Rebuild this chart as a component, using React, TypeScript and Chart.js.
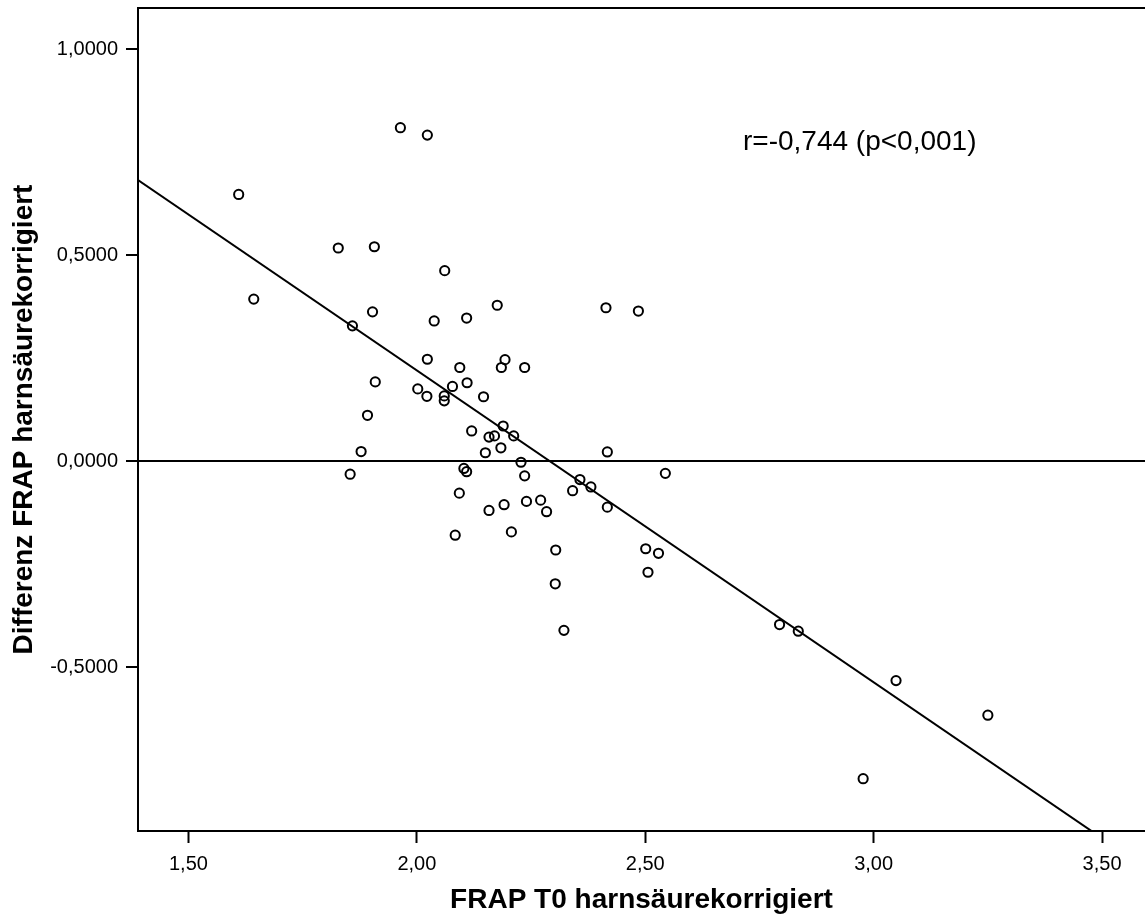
import { useEffect, useRef } from "react";
import { Chart, registerables } from "chart.js";

Chart.register(...registerables);

// FRAP at T0 (uric-acid corrected) per subject
const frapT0 = [
  1.610, 1.643, 1.964, 2.023, 1.828, 1.907, 2.061, 2.176, 1.903, 1.859,
  2.038, 2.109, 2.023, 2.094, 2.193, 2.185, 2.236, 1.909, 2.002, 2.078,
  2.110, 2.022, 2.060, 2.060, 2.146, 1.892, 2.189, 2.120, 2.158, 2.170,
  2.212, 1.878, 2.150, 2.184, 2.228, 1.854, 2.103, 2.109, 2.236, 2.357,
  2.341, 2.093, 2.158, 2.191, 2.240, 2.271, 2.284, 2.084, 2.207, 2.304,
  2.303, 2.322, 2.414, 2.485, 2.417, 2.544, 2.381, 2.417, 2.501, 2.529,
  2.506, 2.794, 2.835, 3.049, 3.250, 2.977,
];

// FRAP difference (uric-acid corrected) per subject
const frapDiff = [
  0.647, 0.393, 0.809, 0.791, 0.517, 0.520, 0.462, 0.378, 0.362, 0.328,
  0.340, 0.347, 0.247, 0.227, 0.246, 0.227, 0.227, 0.192, 0.175, 0.181,
  0.190, 0.157, 0.158, 0.146, 0.156, 0.111, 0.085, 0.073, 0.058, 0.061,
  0.061, 0.023, 0.020, 0.032, -0.003, -0.032, -0.018, -0.026, -0.036, -0.045,
  -0.072, -0.078, -0.120, -0.106, -0.098, -0.095, -0.123, -0.180, -0.172, -0.216,
  -0.298, -0.411, 0.372, 0.364, 0.022, -0.030, -0.063, -0.112, -0.213, -0.224,
  -0.270, -0.397, -0.413, -0.533, -0.617, -0.771,
];

const xTickValues = [1.5, 2.0, 2.5, 3.0, 3.5];
const xTickLabels = ["1,50", "2,00", "2,50", "3,00", "3,50"];
const yTickValues = [1.0, 0.5, 0.0, -0.5];
const yTickLabels = ["1,0000", "0,5000", "0,0000", "-0,5000"];

// linear fit line
const fitIntercept = 1.734;
const fitSlope = -0.757;

const correlationLabel = "r=-0,744 (p<0,001)";

// axis ranges
const X_MIN = 1.3896;
const X_MAX = 3.594;
const Y_MIN = -0.898;
const Y_MAX = 1.0995;

// where the correlation text sits (data units, left/baseline)
const LABEL_AT_X = 2.714;
const LABEL_AT_Y = 0.755;

const FONT = '"Liberation Sans", Arial, Helvetica, sans-serif';

// keep the plot area fixed: no extra room reserved for edge tick labels
const noEdgePadding = (scale: any) => {
  scale.paddingTop = 0;
  scale.paddingBottom = 0;
  scale.paddingLeft = 0;
  scale.paddingRight = 0;
};

export default function App() {
  const canvasRef = useRef<HTMLCanvasElement | null>(null);

  useEffect(() => {
    const canvas = canvasRef.current;
    if (!canvas) return;

    const points = frapT0.map((x, i) => ({ x, y: frapDiff[i] }));
    const fitLine = [X_MIN, X_MAX].map((x) => ({ x, y: fitIntercept + fitSlope * x }));

    const framePlugin = {
      id: "frameTop",
      beforeDatasetsDraw(chart: any) {
        const { ctx, chartArea } = chart;
        ctx.save();
        ctx.strokeStyle = "#000";
        ctx.lineWidth = 2;
        ctx.beginPath();
        ctx.moveTo(chartArea.left - 1, chartArea.top);
        ctx.lineTo(chartArea.right, chartArea.top);
        ctx.stroke();
        ctx.restore();
      },
    };

    const labelPlugin = {
      id: "corrLabel",
      afterDatasetsDraw(chart: any) {
        const { ctx, scales } = chart;
        ctx.save();
        ctx.font = `28px ${FONT}`;
        ctx.fillStyle = "#000";
        ctx.textAlign = "left";
        ctx.textBaseline = "alphabetic";
        ctx.fillText(
          correlationLabel,
          scales.x.getPixelForValue(LABEL_AT_X),
          scales.y.getPixelForValue(LABEL_AT_Y)
        );
        ctx.restore();
      },
    };

    const chart = new Chart(canvas, {
      type: "scatter",
      data: {
        datasets: [
          {
            data: points,
            pointRadius: 4.6,
            pointBorderWidth: 2,
            borderWidth: 2,
            pointBorderColor: "#000",
            borderColor: "#000",
            pointBackgroundColor: "rgba(255,255,255,0)",
            showLine: false,
          },
          {
            data: fitLine,
            showLine: true,
            pointRadius: 0,
            borderColor: "#000",
            borderWidth: 2,
          },
        ],
      },
      options: {
        responsive: false,
        animation: false,
        events: [],
        layout: { autoPadding: false, padding: { top: 8, right: 0, bottom: 0, left: 0 } },
        plugins: {
          legend: { display: false },
          tooltip: { enabled: false },
        },
        scales: {
          x: {
            type: "linear",
            position: "bottom",
            min: X_MIN,
            max: X_MAX,
            afterBuildTicks: (scale: any) => {
              scale.ticks = xTickValues.map((value) => ({ value }));
            },
            afterFit: (scale: any) => {
              scale.height = 86;
              noEdgePadding(scale);
            },
            ticks: {
              callback: (_v: any, i: number) => xTickLabels[i],
              font: { family: FONT, size: 20 },
              color: "#000",
              padding: 9,
              maxRotation: 0,
              autoSkip: false,
            },
            grid: {
              drawOnChartArea: false,
              drawTicks: true,
              tickLength: 12,
              tickColor: "#000",
              tickWidth: 2,
            },
            border: { display: true, color: "#000", width: 2 },
            title: {
              display: true,
              text: "FRAP T0 harnsäurekorrigiert",
              font: { family: FONT, size: 28, weight: "bold" },
              color: "#000",
              padding: { top: 0, bottom: 0 },
            },
          },
          y: {
            type: "linear",
            position: "left",
            min: Y_MIN,
            max: Y_MAX,
            afterBuildTicks: (scale: any) => {
              scale.ticks = yTickValues.map((value) => ({ value }));
            },
            afterFit: (scale: any) => {
              scale.width = 138;
              noEdgePadding(scale);
            },
            ticks: {
              callback: (_v: any, i: number) => yTickLabels[i],
              font: { family: FONT, size: 20 },
              color: "#000",
              padding: 8,
              autoSkip: false,
            },
            grid: {
              drawOnChartArea: true,
              color: (ctx: any) =>
                ctx.tick && ctx.tick.value === 0 ? "#000" : "rgba(0,0,0,0)",
              lineWidth: 2,
              drawTicks: true,
              tickLength: 12,
              tickColor: "#000",
              tickWidth: 2,
            },
            border: { display: true, color: "#000", width: 2 },
            title: {
              display: true,
              text: "Differenz FRAP harnsäurekorrigiert",
              font: { family: FONT, size: 28, weight: "bold" },
              color: "#000",
              padding: { top: 7, bottom: 0 },
            },
          },
        },
      },
      plugins: [framePlugin, labelPlugin],
    } as any);

    return () => chart.destroy();
  }, []);

  return (
    <div
      style={{
        position: "absolute",
        left: 0,
        top: 0,
        width: 1145,
        height: 917,
        background: "#fff",
        overflow: "hidden",
      }}
    >
      <canvas ref={canvasRef} width={1145} height={917} style={{ display: "block" }} />
    </div>
  );
}
